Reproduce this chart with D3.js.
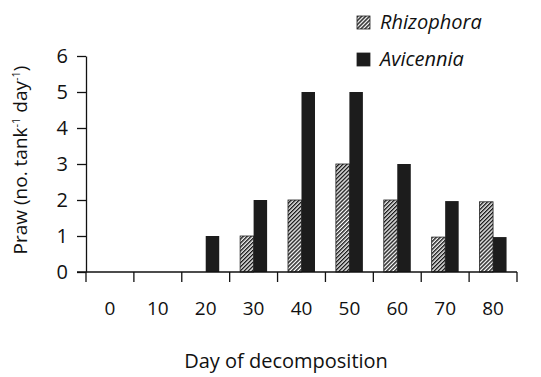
<!DOCTYPE html>
<html lang="en">
<head>
<meta charset="UTF-8">
<title>Praw by day of decomposition</title>
<script src="https://d3js.org/d3.v7.min.js"></script>
<style>
    body { margin: 0; background: #fff; }
    text { font-family: "Open Sans", "Noto Sans", sans-serif; fill: #111; }
    .axis path, .axis line { stroke: #111; stroke-width: 1.3; }
</style>
</head>
<body>
<svg width="541" height="377"></svg>
<script>
    // data
    const days = ["0", "10", "20", "30", "40", "50", "60", "70", "80"];
    const rhizophora = [0, 0, 0, 1, 2, 3, 2, 0.97, 1.95];
    const avicennia = [0, 0, 1, 2, 5, 5, 3, 1.97, 0.97];
    const yTicks = [0, 1, 2, 3, 4, 5, 6];
    const seriesNames = ["Rhizophora", "Avicennia"];

    const svg = d3.select("svg");
    const margin = { top: 56, right: 24, bottom: 105, left: 86 };
    const width = 517 - margin.left;
    const height = 272 - margin.top;

    // hatch pattern for Rhizophora
    const defs = svg.append("defs");
    const pat = defs.append("pattern")
        .attr("id", "hatch")
        .attr("patternUnits", "userSpaceOnUse")
        .attr("width", 2.8).attr("height", 2.8)
        .attr("patternTransform", "rotate(45)");
    pat.append("rect").attr("width", 2.8).attr("height", 2.8).attr("fill", "#fff");
    pat.append("line").attr("x1", 0.7).attr("y1", 0).attr("x2", 0.7).attr("y2", 2.8)
        .attr("stroke", "#1a1a1a").attr("stroke-width", 1.5);

    const g = svg.append("g").attr("transform", `translate(${margin.left},${margin.top})`);

    const x = d3.scaleBand().domain(days).range([0, width]).padding(0);
    const y = d3.scaleLinear().domain([0, 6]).range([height, 0]);
    const barW = 13.5;

    // bars
    const rows = days.map((d, i) => ({ day: d, r: rhizophora[i], a: avicennia[i] }));
    g.selectAll(".bar-r").data(rows).join("rect")
        .attr("class", "bar-r")
        .attr("x", d => x(d.day) + x.bandwidth() / 2 - barW)
        .attr("y", d => y(d.r))
        .attr("width", barW)
        .attr("height", d => height - y(d.r))
        .attr("fill", "url(#hatch)")
        .attr("stroke", d => d.r > 0 ? "#222" : "none")
        .attr("stroke-width", 0.8);
    g.selectAll(".bar-a").data(rows).join("rect")
        .attr("class", "bar-a")
        .attr("x", d => x(d.day) + x.bandwidth() / 2)
        .attr("y", d => y(d.a))
        .attr("width", barW)
        .attr("height", d => height - y(d.a))
        .attr("fill", "#1c1c1c");

    // y axis
    const yAxis = g.append("g").attr("class", "axis")
        .call(d3.axisLeft(y).tickValues(yTicks).tickFormat(d3.format("d"))
            .tickSize(9).tickPadding(9).tickSizeOuter(0));
    yAxis.selectAll("text").style("font-size", "20px");

    // x axis: labels centred in bands, ticks at band edges
    const xAxis = g.append("g").attr("class", "axis").attr("transform", `translate(0,${height})`)
        .call(d3.axisBottom(x).tickSize(0).tickPadding(30));
    xAxis.select(".domain").remove();
    xAxis.selectAll("text").style("font-size", "19px");
    xAxis.append("line").attr("x1", -9).attr("x2", width).attr("y1", 0).attr("y2", 0);
    xAxis.selectAll(".edge").data(days.concat(["end"])).join("line")
        .attr("class", "edge")
        .attr("x1", (d, i) => i * x.step()).attr("x2", (d, i) => i * x.step())
        .attr("y1", 0).attr("y2", 10);

    // axis titles
    svg.append("text")
        .attr("x", margin.left + 200).attr("y", 368)
        .attr("text-anchor", "middle")
        .style("font-size", "20px")
        .text("Day of decomposition");

    const yTitle = svg.append("text")
        .attr("transform", "translate(27,160) rotate(-90)")
        .attr("text-anchor", "middle")
        .style("font-size", "19px");
    yTitle.append("tspan").text("Praw (no. tank");
    yTitle.append("tspan").attr("dy", -7).style("font-size", "11px").text("-1");
    yTitle.append("tspan").attr("dy", 7).text(" day");
    yTitle.append("tspan").attr("dy", -7).style("font-size", "11px").text("-1");
    yTitle.append("tspan").attr("dy", 7).text(")");

    // legend
    const legend = svg.append("g").attr("transform", "translate(357,16)");
    seriesNames.forEach((name, i) => {
        const row = legend.append("g").attr("transform", `translate(0,${i * 37})`);
        row.append("rect").attr("width", 13).attr("height", 13)
            .attr("fill", i === 0 ? "url(#hatch)" : "#1c1c1c")
            .attr("stroke", "#222").attr("stroke-width", 0.8);
        row.append("text").attr("x", 23).attr("y", 13)
            .style("font-size", "20px").style("font-style", "italic")
            .text(name);
    });
</script>
</body>
</html>
